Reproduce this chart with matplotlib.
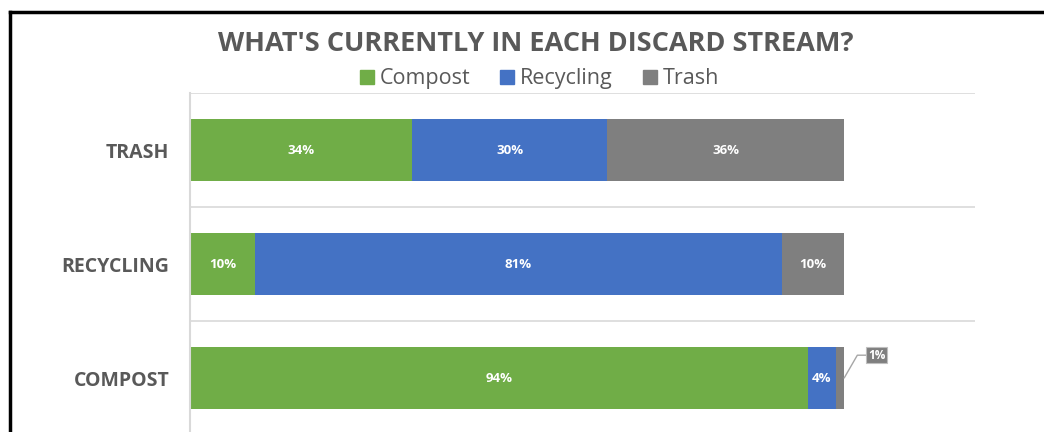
import matplotlib.pyplot as plt
from matplotlib.lines import Line2D

# data (shares of each discard stream)
streams = ['COMPOST', 'RECYCLING', 'TRASH']
compost = [0.944, 0.099, 0.339]
recycling = [0.043, 0.806, 0.299]
trash = [0.013, 0.095, 0.362]
series_names = ['Compost', 'Recycling', 'Trash']

colors = ['#70ad47', '#4472c4', '#7f7f7f']
txt_gray = '#595959'

plt.rcParams['font.family'] = ['Open Sans', 'DejaVu Sans']

fig = plt.figure(figsize=(10.44, 4.32), dpi=100)
ax = fig.add_axes([190 / 1044, -3 / 432, 785 / 1044, 342 / 432])

ypos = list(range(len(streams)))
left = [0.0] * len(streams)
for name, vals, c in zip(series_names, [compost, recycling, trash], colors):
    ax.barh(ypos, vals, left=left, height=0.55, color=c, label=name)
    for y, v, l in zip(ypos, vals, left):
        if v >= 0.03:
            ax.text(l + v / 2, y, f'{v:.0%}', ha='center', va='center',
                    color='white', fontsize=9.5, fontweight='bold')
    left = [a + b for a, b in zip(left, vals)]

# small slice label with leader line
v = trash[0]
x0 = compost[0] + recycling[0] + v
ax.annotate(f'{v:.0%}', xy=(x0, 0), xytext=(x0 + 0.05, 0.2),
            ha='center', va='center', color='white', fontsize=8.5, fontweight='bold',
            bbox=dict(boxstyle='square,pad=0.15', fc=colors[2], ec='#bfbfbf', lw=0.8),
            arrowprops=dict(arrowstyle='-', color='#a6a6a6', lw=1,
                            connectionstyle='angle,angleA=0,angleB=60,rad=0',
                            shrinkA=0, shrinkB=0))

ax.set_xlim(0, 1.2)
ax.set_ylim(-0.5, 2.5)
ax.set_yticks(ypos)
ax.set_yticklabels(streams, fontsize=14, fontweight='bold', color=txt_gray)
ax.tick_params(axis='y', length=0, pad=15)
ax.set_xticks([])
for y in [0.5, 1.5, 2.5]:
    ax.axhline(y, color='#d9d9d9', lw=1.2)
for s in ['top', 'right', 'bottom']:
    ax.spines[s].set_visible(False)
ax.spines['left'].set_color('#d9d9d9')
ax.spines['left'].set_linewidth(1.5)

fig.text(0.513, 0.898, "WHAT'S CURRENTLY IN EACH DISCARD STREAM?", ha='center', va='center',
         fontsize=19.5, fontweight='bold', color=txt_gray)
handles = [Line2D([], [], marker='s', ls='', color=c, markersize=10) for c in colors]
fig.legend(handles, series_names, loc='center', bbox_to_anchor=(0.515, 0.818), ncol=3,
           frameon=False, fontsize=15.5, labelcolor=txt_gray, handletextpad=0.1,
           columnspacing=1.2, handlelength=1.0)

# outer border of the screenshot
fig.add_artist(Line2D([10 / 1044, 1], [1 - 12 / 432, 1 - 12 / 432], color='black', lw=2.5))
fig.add_artist(Line2D([10 / 1044, 10 / 1044], [0, 1 - 12 / 432], color='black', lw=2.5))

fig.savefig('out.png', dpi=100)
